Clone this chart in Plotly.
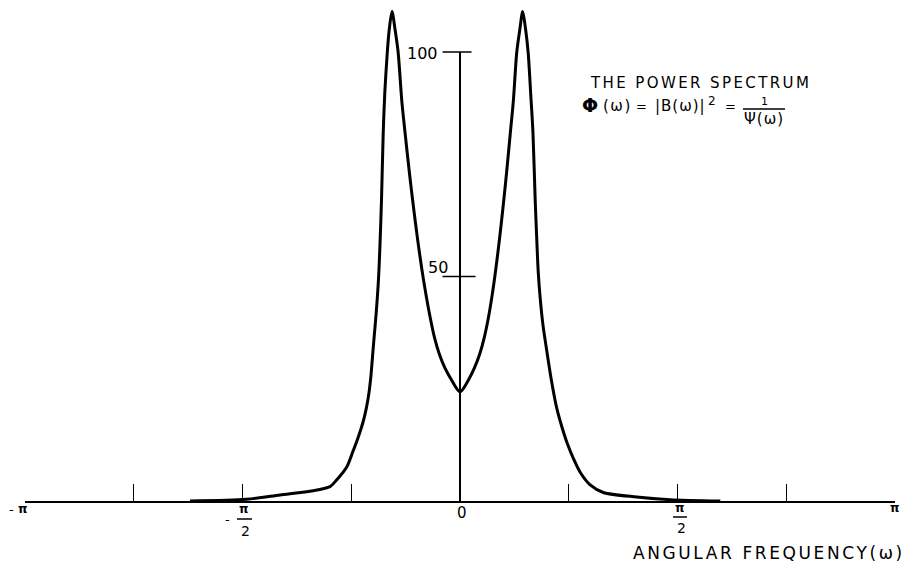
import math
import plotly.graph_objects as go

# ---- data ----
omega = [-1.95, -1.54, -1.30, -1.06, -0.939, -0.891, -0.818, -0.775, -0.735,
         -0.70, -0.675, -0.657, -0.643, -0.626, -0.6055, -0.589, -0.578, -0.567,
         -0.5545, -0.543, -0.525, -0.511, -0.491, -0.469, -0.447, -0.42, -0.395,
         -0.365, -0.335, -0.305, -0.275, -0.245, -0.215, -0.185, -0.15, -0.11,
         -0.06, 0.0, 0.06, 0.105, 0.143, 0.176, 0.205, 0.232, 0.258, 0.284,
         0.31, 0.336, 0.362, 0.385, 0.41, 0.432, 0.453, 0.474, 0.492, 0.512,
         0.527, 0.543, 0.5535, 0.565, 0.581, 0.60, 0.622, 0.66, 0.70, 0.735,
         0.775, 0.82, 0.87, 0.94, 1.035, 1.276, 1.517, 1.88]
phi = [0.0, 0.38, 1.34, 2.3, 3.2, 4.7, 7.6, 10.9, 14.2,
       17.6, 20.9, 24.2, 28.0, 34.4, 41.8, 49.2, 57.0, 67.0,
       82.0, 91.0, 100.0, 105.0, 109.0, 105.0, 100.0, 89.0, 81.5,
       73.0, 65.2, 58.0, 51.5, 45.8, 40.8, 36.5, 32.8, 29.7,
       26.9, 24.3, 26.9, 29.7, 32.8, 36.5, 40.8, 45.8, 51.5, 58.0,
       65.2, 73.0, 81.5, 89.0, 100.0, 105.0, 109.0, 105.0, 100.0, 90.0,
       82.0, 67.0, 59.0, 51.0, 44.5, 39.0, 34.4, 26.9, 20.5, 16.6,
       12.8, 9.4, 6.3, 3.6, 1.9, 0.9, 0.3, 0.0]

x_tickvals = [k * math.pi / 4 for k in range(-4, 5)]
y_tickvals = [50, 100]
y_ticktext = ["50", "100"]

FONT = "DejaVu Sans"
BLACK = "#000000"

# pixel helpers (plot area: x 25..895, y 0..501)
def xp(px):
    return (px - 25) / 870.0

def yp(py):
    return (501 - py) / 501.0

fig = go.Figure()
fig.add_trace(go.Scatter(
    x=omega, y=phi, mode="lines",
    line=dict(color=BLACK, width=3, shape="spline", smoothing=0.8),
    cliponaxis=False, showlegend=False, hoverinfo="skip"))

shapes = []
# vertical axis at omega = 0
shapes.append(dict(type="line", xref="x", yref="y", x0=0, x1=0, y0=0, y1=100,
                   line=dict(color=BLACK, width=2)))
# crossing ticks on the vertical axis
tick_extent = {50: (-0.126, 0.112), 100: (-0.126, 0.083)}
for v in y_tickvals:
    a, b = tick_extent[v]
    shapes.append(dict(type="line", xref="x", yref="y", x0=a, x1=b, y0=v, y1=v,
                       line=dict(color=BLACK, width=1.5)))
# fraction bars under pi/2 labels
shapes.append(dict(type="line", xref="paper", yref="paper", x0=xp(237), x1=xp(252),
                   y0=yp(519), y1=yp(519), line=dict(color=BLACK, width=1.5)))
shapes.append(dict(type="line", xref="paper", yref="paper", x0=xp(673), x1=xp(687),
                   y0=yp(517), y1=yp(517), line=dict(color=BLACK, width=1.5)))
# fraction bar in formula
shapes.append(dict(type="line", xref="paper", yref="paper", x0=xp(743), x1=xp(785),
                   y0=yp(109), y1=yp(109), line=dict(color=BLACK, width=1.3)))

ann = []
def text(t, px, py, size, xanchor="center", yanchor="middle"):
    ann.append(dict(text=t, x=xp(px), y=yp(py), xref="paper", yref="paper",
                    showarrow=False, xanchor=xanchor, yanchor=yanchor,
                    font=dict(family=FONT, size=size, color=BLACK)))

def spaced(t, sp):
    return '<span style="letter-spacing:%spx">%s</span>' % (sp, t)

# x labels
text("-", 11, 509, 13)
text("<b>π</b>", 23, 509, 12)
text("-", 227, 519, 13)
text("<b>π</b>", 244, 509, 12)
text("2", 245, 531, 14)
text("0", 462, 513, 15)
text("<b>π</b>", 680, 508, 12)
text("2", 681, 528, 14)
text("<b>π</b>", 895, 508, 12)
# y labels
text(y_ticktext[1], 440, 53, 16, xanchor="right")
text(y_ticktext[0], 450, 267, 16, xanchor="right")
# title block
text(spaced("THE POWER SPECTRUM", 2.4), 588, 83, 15, xanchor="left")
text("<b>Φ</b>", 590, 105, 19)
text(spaced("(ω)", 1.5), 601, 106, 15, xanchor="left")
text("=", 641, 106, 13)
text(spaced("|B(ω)|", 1), 653, 106, 15, xanchor="left")
text("2", 712, 101, 12)
text("=", 730, 107, 13)
text("1", 764, 101, 11)
text(spaced("Ψ(ω)", 1), 764, 119, 15)
# axis title
text(spaced("ANGULAR FREQUENCY(ω)", 2.6), 907, 553, 17, xanchor="right")

fig.update_layout(
    width=906, height=567,
    margin=dict(l=25, r=11, t=0, b=66),
    paper_bgcolor="white", plot_bgcolor="white",
    xaxis=dict(range=[-math.pi, math.pi], showgrid=False, zeroline=False,
               showline=True, linecolor=BLACK, linewidth=2,
               ticks="inside", ticklen=17, tickwidth=1.3, tickcolor=BLACK,
               tickvals=x_tickvals, showticklabels=False, fixedrange=True),
    yaxis=dict(range=[0, 501 / 4.49], visible=False, fixedrange=True),
    shapes=shapes, annotations=ann,
)

fig.write_html("out.html")
